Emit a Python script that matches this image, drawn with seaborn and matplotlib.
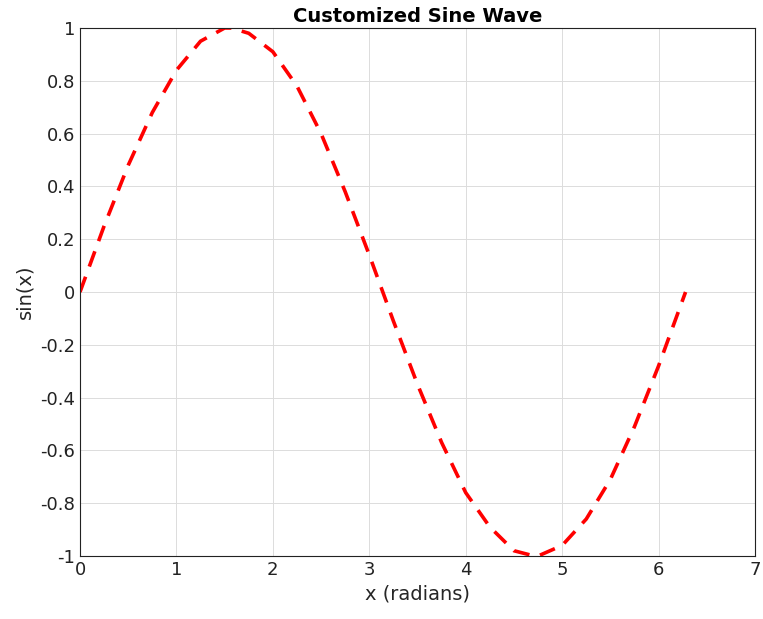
import numpy as np
import pandas as pd
from matplotlib import pyplot as plt
import seaborn as sns

sns.set_style('white')

# values
x_vals = [0, 0.25, 0.5, 0.75, 1.0, 1.25, 1.5, 1.57, 1.75, 2.0, 2.25, 2.5, 2.75, 3.0,
          3.25, 3.5, 3.75, 4.0, 4.25, 4.5, 4.71, 4.75, 5.0, 5.25, 5.5, 5.75, 6.0, 6.28]
y_vals = [0, 0.25, 0.48, 0.68, 0.84, 0.95, 1.0, 1.0, 0.98, 0.91, 0.78, 0.60, 0.38, 0.14,
          -0.11, -0.35, -0.57, -0.76, -0.89, -0.98, -1.0, -1.0, -0.96, -0.86, -0.71, -0.51, -0.28, 0]
x_ticks = [0, 1, 2, 3, 4, 5, 6, 7]
y_ticks = [-1, -0.8, -0.6, -0.4, -0.2, 0, 0.2, 0.4, 0.6, 0.8, 1]

df = pd.DataFrame({'x': x_vals, 'y': y_vals})

fig = plt.figure(figsize=(7.63, 6.19), dpi=100)
ax = fig.add_axes([80/763, 1-556/619, 675/763, 528/619])

sns.lineplot(data=df, x='x', y='y', ax=ax, color='#ff0000', linewidth=2.6)
ax.lines[0].set_dashes([4.5, 3])

ax.set_xlim(0, 7)
ax.set_ylim(-1, 1)
ax.set_xticks(x_ticks)
ax.set_yticks(y_ticks)
ax.set_xticklabels([str(t) for t in x_ticks])
ax.set_yticklabels(['%g' % t for t in y_ticks])
ax.tick_params(labelsize=13, direction='in', length=4, colors='#222222')
ax.grid(True, color='#dcdcdc', linewidth=0.7)
for s in ax.spines.values():
    s.set_color('#222222')
    s.set_linewidth(0.8)

ax.set_xlabel('x (radians)', fontsize=14)
ax.set_ylabel('sin(x)', fontsize=14)
ax.set_title('Customized Sine Wave', fontsize=14, fontweight='bold', color='black', pad=4)

fig.savefig('out.png')
